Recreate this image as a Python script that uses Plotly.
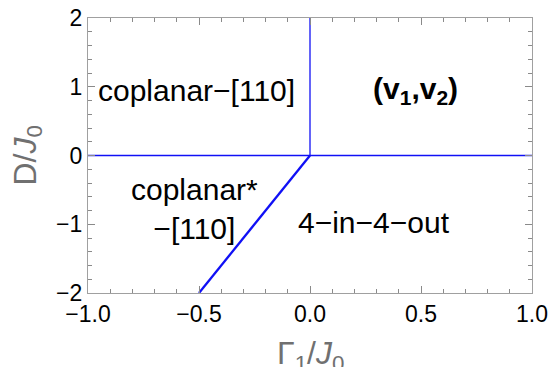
import plotly.graph_objects as go

# Phase boundaries (Gamma1/J0, D/J0)
h_boundary_x = [-1.0, 1.0]
h_boundary_y = [0.0, 0.0]
v_boundary_x = [0.0, 0.0]
v_boundary_y = [0.0, 2.0]
d_boundary_x = [0.0, -0.5]
d_boundary_y = [0.0, -2.0]

x_tick_step = 0.5
y_tick_step = 1
x_minor_step = 0.1
y_minor_step = 0.2

phase_labels = ["coplanar−[110]", "<b>(v<sub>1</sub>,v<sub>2</sub>)</b>",
                "coplanar*<br>−[110]", "4−in−4−out"]
label_x = [-0.51, 0.475, -0.52, 0.29]
label_y = [0.95, 0.95, -0.78, -0.98]

blue = "#1010f5"
fig = go.Figure()
fig.add_trace(go.Scatter(x=h_boundary_x, y=h_boundary_y, mode="lines",
                         line=dict(color=blue, width=1.3), showlegend=False))
fig.add_trace(go.Scatter(x=v_boundary_x, y=v_boundary_y, mode="lines",
                         line=dict(color=blue, width=1.3), showlegend=False))
fig.add_trace(go.Scatter(x=d_boundary_x, y=d_boundary_y, mode="lines",
                         line=dict(color=blue, width=2.3), showlegend=False))

for t, x, y in zip(phase_labels, label_x, label_y):
    fig.add_annotation(x=x, y=y, text=t, showarrow=False,
                       font=dict(size=30, color="black", family="Liberation Sans, Arial"),
                       align="center")

title_font = dict(size=32, color="#707070", family="Liberation Sans, Arial")
fig.add_annotation(xref="paper", yref="paper", x=0.5, y=0, yshift=-62, yanchor="middle",
                   text="Γ<sub>1</sub>/<i>J</i><sub>0</sub>", showarrow=False, font=title_font)
fig.add_annotation(xref="paper", yref="paper", x=0, y=0.5, xshift=-61, xanchor="center",
                   textangle=-90, text="D/<i>J</i><sub>0</sub>", showarrow=False, font=title_font)

tick_gray = "#8a8a8a"
axcommon = dict(showgrid=False, zeroline=False, showline=True, linecolor="#a0a0a0",
                linewidth=1.2, mirror="allticks", ticks="inside", ticklen=7,
                tickcolor=tick_gray, tickwidth=1.2, automargin=False, layer="above traces",
                tickfont=dict(size=23, color="black", family="Liberation Sans, Arial"))

fig.update_xaxes(range=[-1, 1], tickmode="linear", tick0=0, dtick=x_tick_step,
                 tickformat=".1f",
                 minor=dict(ticks="inside", tick0=0, dtick=x_minor_step, ticklen=4,
                            tickcolor=tick_gray, tickwidth=1),
                 **axcommon)
fig.update_yaxes(range=[-2, 2], tickmode="linear", tick0=0, dtick=y_tick_step,
                 tickformat="d",
                 minor=dict(ticks="inside", tick0=0, dtick=y_minor_step, ticklen=4,
                            tickcolor=tick_gray, tickwidth=1),
                 **axcommon)

fig.update_layout(width=549, height=367, margin=dict(l=88, r=17, t=18, b=74),
                  plot_bgcolor="white", paper_bgcolor="white")
fig.write_html("out.html")
